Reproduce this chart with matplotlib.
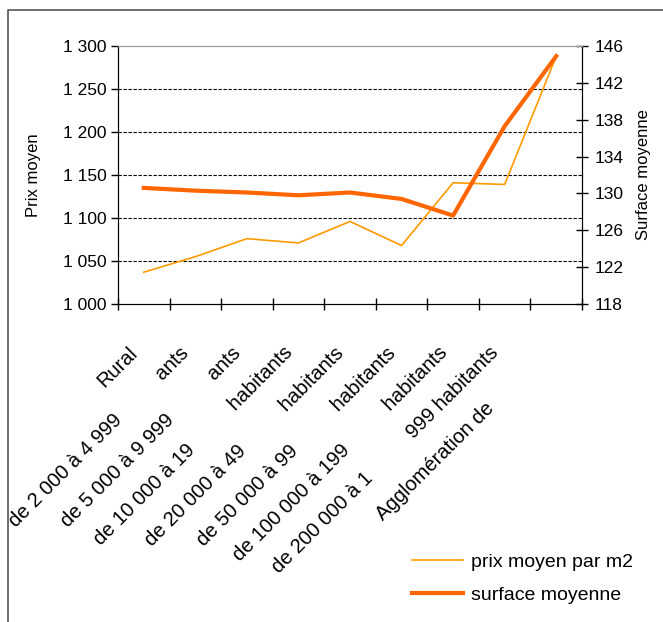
import numpy as np
import matplotlib
matplotlib.use("Agg")
import matplotlib.pyplot as plt
from matplotlib.lines import Line2D
from matplotlib.transforms import offset_copy, blended_transform_factory

plt.rcParams['font.family'] = ['Liberation Sans', 'DejaVu Sans']

# values
lower_labels = ["", "de 2 000 à 4 999", "de 5 000 à 9 999", "de 10 000 à 19",
                "de 20 000 à 49", "de 50 000 à 99", "de 100 000 à 199",
                "de 200 000 à 1", "Agglomération de"]
upper_labels = ["Rural", "ants", "ants", "habitants", "habitants", "habitants",
                "habitants", "999 habitants", ""]
prix = [1037, 1055, 1076, 1071, 1096, 1068, 1141, 1139, 1288]
surface = [130.6, 130.3, 130.1, 129.8, 130.1, 129.4, 127.6, 137.3, 144.9]

left_ticks = [1000, 1050, 1100, 1150, 1200, 1250, 1300]
right_ticks = [118, 122, 126, 130, 134, 138, 142, 146]

W, H = 663, 622
fig = plt.figure(figsize=(W / 100, H / 100), dpi=100)

# plot area in pixels: x 118..582, y 46..304
x0, x1, y0, y1 = 118, 582, 46, 304
ax = fig.add_axes([x0 / W, 1 - y1 / H, (x1 - x0) / W, (y1 - y0) / H])
ax2 = ax.twinx()

n = len(prix)
xs = np.arange(n) + 0.5

ax.plot(xs, prix, color='#FF9900', lw=1.2, label='prix moyen par m2', zorder=3)
ax2.plot(xs, surface, color='#FF6600', lw=3.0, label='surface moyenne', zorder=3)

ax.set_xlim(0, n)
ax.set_ylim(1000, 1300)
ax2.set_ylim(118, 146)

ax.set_yticks(left_ticks)
ax.set_yticklabels(['{:,}'.format(v).replace(',', ' ') for v in left_ticks])
ax2.set_yticks(right_ticks)
ax2.set_yticklabels([str(v) for v in right_ticks])

for v in left_ticks[1:-1]:
    ax.axhline(v, color='black', lw=0.8, ls=(0, (3, 1.5)), zorder=1)

ax.set_xticks(np.arange(n + 1))
ax.set_xticklabels([])
ax.tick_params(axis='x', direction='inout', length=9, width=1.0)
ax.tick_params(axis='y', direction='out', length=5, width=1.0, labelsize=12.5, pad=3)
ax2.tick_params(axis='y', direction='inout', length=8, width=1.0, labelsize=12.5, pad=5)

for a in (ax, ax2):
    a.spines['top'].set_color('#999999')
    a.spines['left'].set_color('black')
    a.spines['right'].set_color('black')
    a.spines['bottom'].set_color('black')

ax.set_ylabel('Prix moyen', fontsize=12, labelpad=16)
ax2.set_ylabel('Surface moyenne', fontsize=12, labelpad=9)

# rotated category labels (clipped as in the original)
trans = blended_transform_factory(ax.transData, ax.transAxes)
for i in range(n):
    if not lower_labels[i]:
        txt = upper_labels[i]
    elif upper_labels[i]:
        txt = lower_labels[i] + " " * 10 + upper_labels[i]
    else:
        txt = lower_labels[i] + " " * 14
    t = offset_copy(trans, fig=fig, x=-9, y=-46, units='dots')
    ax.text(xs[i], 0, txt, transform=t, rotation=45, rotation_mode='anchor',
            ha='right', va='center', fontsize=14.5)

h1, l1 = ax.get_legend_handles_labels()
h2, l2 = ax2.get_legend_handles_labels()
fig.legend(h1 + h2, l1 + l2, loc='upper left',
           bbox_to_anchor=(412 / W, 1 - 553 / H), frameon=False, fontsize=14,
           handlelength=2.6, handletextpad=0.45, labelspacing=0.8,
           borderpad=0, borderaxespad=0)

# outer frame (left and top only visible)
fig.add_artist(Line2D([8 / W, 8 / W, 1], [0, 1 - 10 / H, 1 - 10 / H],
                      transform=fig.transFigure, color='#555555', lw=1.2))

fig.savefig('out.png', dpi=100)
